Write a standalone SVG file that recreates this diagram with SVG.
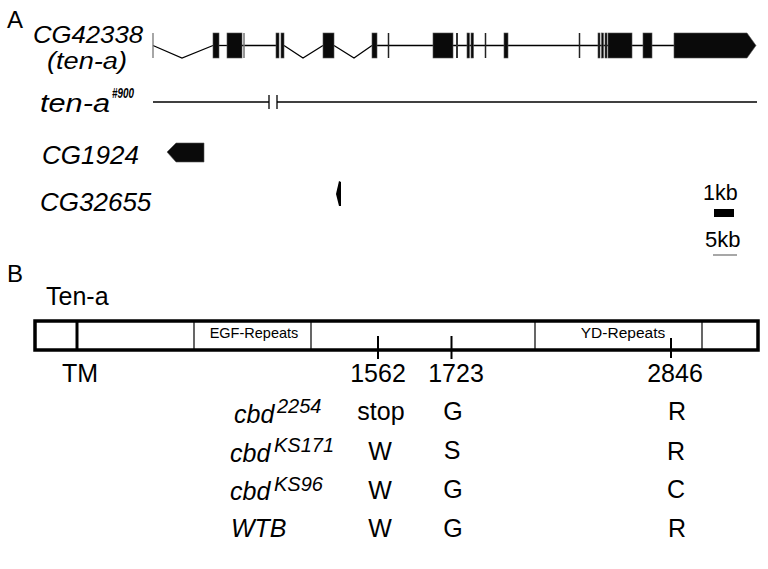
<svg xmlns="http://www.w3.org/2000/svg" width="768" height="569" viewBox="0 0 768 569">
<style>
text{font-family:"Liberation Sans",Arial,sans-serif;fill:#000}
.it{font-style:italic}
.lab{font-size:26px}
.ex{fill:#0a0a0a;stroke:#555;stroke-width:0.6}
.tk{stroke:#222;stroke-width:1.5}
.ln{stroke:#000;stroke-width:1.3;fill:none}
.box{fill:#fff;stroke:#000;stroke-width:3.5}
.div{stroke:#000;stroke-width:1.2}
.cell{font-size:25px;text-anchor:middle}
.row{font-size:25px}
.sup{font-size:20px}
</style>
<rect width="768" height="569" fill="#fff"/>
<text x="7" y="28" style="font-size:24px">A</text>
<text x="7" y="282" style="font-size:24px">B</text>

<g id="gene-ten-a">
<text class="it" x="33" y="42.5" style="font-size:24px" textLength="110" lengthAdjust="spacingAndGlyphs">CG42338</text>
<text class="it" x="47" y="68.5" style="font-size:23px" textLength="80" lengthAdjust="spacingAndGlyphs">(ten-a)</text>
<g class="ln">
<path d="M153,45.5 L182,58 L213,45.5"/>
<path d="M219,45.5 H227"/>
<path d="M242,45.5 H276"/>
<path d="M284,45.5 L303,58 L323,45.5"/>
<path d="M334,45.5 L354,58 L372,45.5"/>
<path d="M377,45.5 H674"/>
</g>
<line x1="153" y1="33" x2="153" y2="58" stroke="#777" stroke-width="1.3"/>
<rect class="ex" x="213" y="33" width="6" height="25"/>
<rect class="ex" x="227" y="33" width="15" height="25"/>
<line x1="244" y1="33" x2="244" y2="58" stroke="#777" stroke-width="1.5"/>
<rect class="ex" x="276" y="33" width="3" height="25"/>
<rect class="ex" x="281" y="33" width="3" height="25"/>
<rect class="ex" x="323" y="33" width="11" height="25"/>
<rect class="ex" x="372" y="33" width="5" height="25"/>
<line class="tk" x1="388.5" y1="33" x2="388.5" y2="58"/>
<rect class="ex" x="433" y="33" width="20" height="25"/>
<line x1="457" y1="33" x2="457" y2="58" stroke="#333" stroke-width="2"/>
<rect class="ex" x="467" y="33" width="2.5" height="25"/>
<rect class="ex" x="471" y="33" width="2.5" height="25"/>
<line class="tk" x1="485.5" y1="33" x2="485.5" y2="58"/>
<rect class="ex" x="504" y="33" width="4" height="25"/>
<line class="tk" x1="579.5" y1="33" x2="579.5" y2="58"/>
<rect class="ex" x="598" y="33" width="2" height="25"/>
<rect class="ex" x="601.5" y="33" width="2" height="25"/>
<rect class="ex" x="605" y="33" width="2" height="25"/>
<rect class="ex" x="608" y="33" width="24" height="25"/>
<rect class="ex" x="643" y="33" width="9" height="25"/>
<polygon class="ex" points="674,33 747,33 756,45.5 747,58 674,58"/>
</g>

<g id="gene-ten-a-900">
<text class="it" x="40" y="112" style="font-size:25px" textLength="70" lengthAdjust="spacingAndGlyphs">ten-a</text>
<text class="it" x="112" y="98" style="font-size:14px;font-weight:bold" textLength="22" lengthAdjust="spacingAndGlyphs">#900</text>
<line x1="153" y1="102" x2="269" y2="102" stroke="#000" stroke-width="1.6"/>
<line x1="269" y1="95" x2="269" y2="109" stroke="#000" stroke-width="1.3"/>
<line x1="277" y1="95" x2="277" y2="109" stroke="#000" stroke-width="1.3"/>
<line x1="277" y1="102" x2="757" y2="102" stroke="#000" stroke-width="1.6"/>
</g>

<g id="gene-CG1924">
<text class="it lab" x="42" y="164">CG1924</text>
<polygon class="ex" points="167,152 176,143 204,143 204,162 176,162"/>
</g>

<g id="gene-CG32655">
<text class="it lab" x="40" y="211">CG32655</text>
<path d="M339,181 L341,182 L341,206 L339,206 L336,194 Z" fill="#000"/>
</g>

<g id="scale">
<text x="703" y="200" style="font-size:21.5px">1kb</text>
<rect x="714" y="209" width="20" height="8" fill="#000"/>
<text x="705" y="247" style="font-size:22px">5kb</text>
<line x1="713" y1="255" x2="737" y2="255" stroke="#777" stroke-width="1.3"/>
</g>

<g id="protein-ten-a">
<text x="46" y="305" style="font-size:25px">Ten-a</text>
<rect class="box" x="35" y="321" width="723" height="29"/>
<line x1="77" y1="321" x2="77" y2="350" stroke="#000" stroke-width="3"/>
<line class="div" x1="194" y1="321" x2="194" y2="350"/>
<line class="div" x1="311" y1="321" x2="311" y2="350"/>
<line class="div" x1="535" y1="321" x2="535" y2="350"/>
<line class="div" x1="702" y1="321" x2="702" y2="350"/>
<text x="254" y="338" style="font-size:14.5px" text-anchor="middle">EGF-Repeats</text>
<text x="623" y="338" style="font-size:15.5px" text-anchor="middle">YD-Repeats</text>
<line x1="378" y1="336" x2="378" y2="359" stroke="#000" stroke-width="2"/>
<line x1="451.5" y1="336" x2="451.5" y2="359" stroke="#000" stroke-width="2"/>
<line x1="671" y1="338" x2="671" y2="358" stroke="#000" stroke-width="2"/>
<text x="80" y="382" class="cell">TM</text>
<text x="378" y="382" class="cell">1562</text>
<text x="456" y="382" class="cell">1723</text>
<text x="675" y="382" class="cell">2846</text>
</g>

<g id="table">
<text class="it row" x="234" y="423">cbd</text>
<text class="it sup" x="277" y="413">2254</text>
<text x="381" y="420" class="cell">stop</text>
<text x="453" y="420" class="cell">G</text>
<text x="677" y="420" class="cell">R</text>

<text class="it row" x="230" y="462">cbd</text>
<text class="it sup" x="274" y="452">KS171</text>
<text x="380" y="460" class="cell">W</text>
<text x="452" y="459" class="cell">S</text>
<text x="676" y="460" class="cell">R</text>

<text class="it row" x="230" y="500">cbd</text>
<text class="it sup" x="274" y="491">KS96</text>
<text x="380" y="499" class="cell">W</text>
<text x="453" y="498" class="cell">G</text>
<text x="676" y="498" class="cell">C</text>

<text class="it row" x="231" y="537">WTB</text>
<text x="380" y="537" class="cell">W</text>
<text x="453" y="537" class="cell">G</text>
<text x="677" y="537" class="cell">R</text>
</g>
</svg>
